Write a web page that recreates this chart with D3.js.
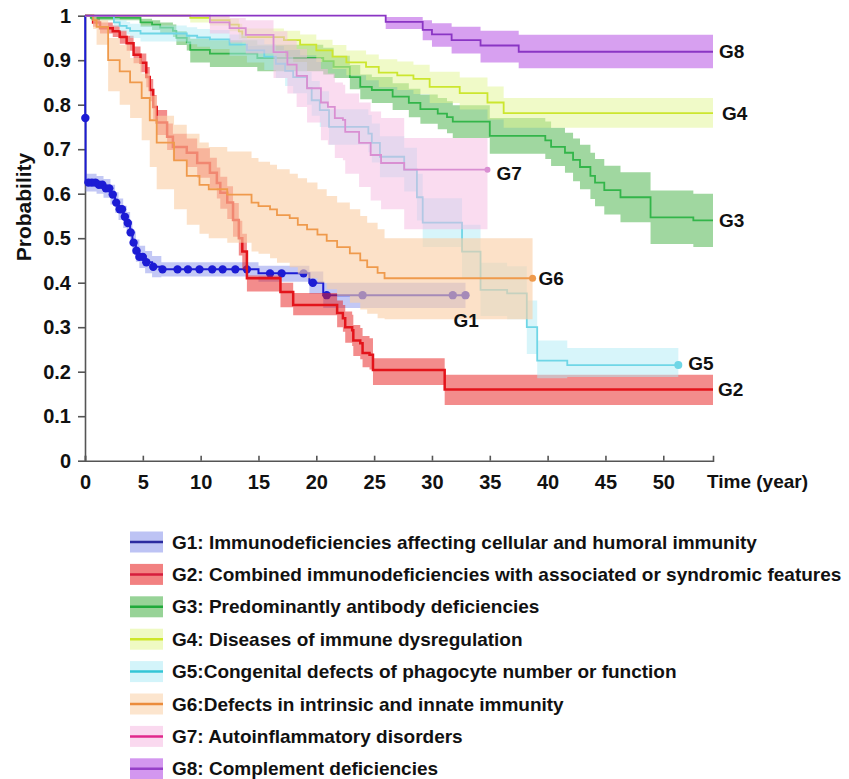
<!doctype html>
<html lang="en">
<head>
  <meta charset="utf-8">
  <script src="https://d3js.org/d3.v7.min.js"></script>
  <style>
    body { margin: 0; background: #fff; }
    svg text { font-family: "Liberation Sans", Arial, sans-serif; font-weight: bold; fill: #111; }
  </style>
</head>
<body>
<script>
  var width = 849, height = 779;

  // ---- data ----
  var groupNames = ["G1", "G2", "G3", "G4", "G5", "G6", "G7", "G8"];
  var legendLabels = [
    "G1: Immunodeficiencies affecting cellular and humoral immunity",
    "G2: Combined immunodeficiencies with associated or syndromic features",
    "G3: Predominantly antibody deficiencies",
    "G4: Diseases of immune dysregulation",
    "G5:Congenital defects of phagocyte number or function",
    "G6:Defects in intrinsic and innate immunity",
    "G7: Autoinflammatory disorders",
    "G8: Complement deficiencies"
  ];

  var xTicks = [0, 5, 10, 15, 20, 25, 30, 35, 40, 45, 50];
  var yTicks = [0, 0.1, 0.2, 0.3, 0.4, 0.5, 0.6, 0.7, 0.8, 0.9, 1];
  var xMax = 54.3;

  var g1Time  = [0, 0.02, 0.05, 1.0, 1.6, 2.2, 2.6, 2.9, 3.3, 3.6, 3.9, 4.1, 4.4, 4.7, 5.2, 5.8, 6.6, 15.0, 19.4, 20.6, 32.9];
  var g1Surv  = [1, 0.77, 0.625, 0.62, 0.612, 0.598, 0.58, 0.565, 0.548, 0.534, 0.513, 0.49, 0.472, 0.458, 0.446, 0.436, 0.43, 0.421, 0.40, 0.372, 0.372];
  var g1Lower = [1, 0.75, 0.605, 0.60, 0.591, 0.576, 0.557, 0.541, 0.523, 0.509, 0.488, 0.465, 0.447, 0.433, 0.421, 0.412, 0.414, 0.402, 0.375, 0.343, 0.343];
  var g1Upper = [1, 0.79, 0.645, 0.64, 0.633, 0.62, 0.603, 0.589, 0.573, 0.559, 0.538, 0.515, 0.497, 0.483, 0.471, 0.46, 0.446, 0.438, 0.425, 0.40, 0.40];
  var g1Censor = [0.03, 0.3, 0.6, 0.9, 1.2, 1.5, 1.8, 2.1, 2.4, 2.7, 3.0, 3.2, 3.45, 3.7, 3.95, 4.2, 4.45, 4.7, 5.0, 5.3,
                  5.9, 6.7, 8.0, 8.9, 9.9, 11.0, 11.9, 13.0, 14.0, 16.0, 17.0, 18.9, 19.7, 20.9, 24.0, 31.8, 32.9];

  var g2Time  = [0, 0.7, 1.3, 2.4, 3.0, 3.6, 4.2, 4.8, 5.3, 5.6, 5.9, 6.2, 7.1, 7.6, 8.8, 9.7, 10.8, 11.4, 11.7, 12.3, 12.8, 13.3, 13.6, 14.0, 16.9, 18.0, 21.8, 22.3, 22.5, 23.1, 23.2, 23.8, 24.0, 24.6, 24.9, 31.1, 54.3];
  var g2Surv  = [1, 0.985, 0.972, 0.965, 0.952, 0.938, 0.912, 0.894, 0.862, 0.833, 0.795, 0.76, 0.728, 0.705, 0.692, 0.669, 0.647, 0.624, 0.602, 0.58, 0.541, 0.50, 0.47, 0.41, 0.379, 0.35, 0.332, 0.32, 0.30, 0.293, 0.27, 0.264, 0.242, 0.238, 0.204, 0.16, 0.16];
  var g2Lower = [1, 0.975, 0.96, 0.952, 0.937, 0.921, 0.893, 0.873, 0.839, 0.808, 0.768, 0.732, 0.698, 0.675, 0.66, 0.636, 0.613, 0.589, 0.566, 0.543, 0.503, 0.461, 0.43, 0.38, 0.345, 0.327, 0.30, 0.29, 0.265, 0.258, 0.235, 0.228, 0.21, 0.205, 0.17, 0.125, 0.125];
  var g2Upper = [1, 0.995, 0.985, 0.978, 0.967, 0.955, 0.931, 0.915, 0.885, 0.858, 0.822, 0.788, 0.758, 0.735, 0.724, 0.702, 0.681, 0.659, 0.638, 0.617, 0.579, 0.539, 0.51, 0.416, 0.40, 0.377, 0.36, 0.35, 0.335, 0.328, 0.305, 0.298, 0.28, 0.275, 0.23, 0.193, 0.193];
  var g2Censor = [];

  var g3Time  = [0, 0.5, 4.8, 5.8, 6.5, 7.6, 7.9, 8.8, 9.1, 10.8, 14.9, 20.6, 21.5, 22.9, 23.8, 24.8, 26.6, 28.0, 29.0, 30.5, 31.3, 31.8, 35.0, 39.8, 40.3, 41.5, 42.2, 42.8, 43.7, 44.1, 44.9, 46.3, 48.9, 52.6, 54.3];
  var g3Surv  = [1, 0.995, 0.985, 0.98, 0.973, 0.966, 0.95, 0.94, 0.923, 0.915, 0.905, 0.898, 0.885, 0.862, 0.84, 0.833, 0.818, 0.804, 0.79, 0.78, 0.772, 0.762, 0.73, 0.72, 0.705, 0.692, 0.676, 0.66, 0.64, 0.625, 0.608, 0.592, 0.547, 0.54, 0.54];
  var g3Lower = [1, 0.99, 0.975, 0.968, 0.96, 0.952, 0.934, 0.922, 0.895, 0.885, 0.875, 0.868, 0.86, 0.835, 0.812, 0.804, 0.788, 0.772, 0.757, 0.745, 0.736, 0.725, 0.69, 0.678, 0.662, 0.647, 0.628, 0.61, 0.588, 0.572, 0.553, 0.536, 0.487, 0.48, 0.48];
  var g3Upper = [1, 1, 0.993, 0.99, 0.985, 0.98, 0.965, 0.957, 0.948, 0.945, 0.935, 0.928, 0.91, 0.889, 0.868, 0.862, 0.848, 0.836, 0.823, 0.815, 0.808, 0.799, 0.77, 0.762, 0.748, 0.737, 0.724, 0.71, 0.692, 0.678, 0.663, 0.648, 0.607, 0.60, 0.60];
  var g3Censor = [];

  var g4Time  = [0, 9.1, 10.8, 12.5, 13.3, 13.6, 17.2, 18.6, 20.0, 21.4, 22.6, 24.3, 25.4, 27.0, 28.4, 29.8, 32.4, 34.8, 36.2, 54.3];
  var g4Surv  = [1, 0.995, 0.99, 0.98, 0.965, 0.952, 0.945, 0.935, 0.922, 0.908, 0.895, 0.885, 0.872, 0.866, 0.858, 0.84, 0.826, 0.805, 0.781, 0.781];
  var g4Lower = [1, 0.985, 0.978, 0.965, 0.947, 0.932, 0.923, 0.911, 0.896, 0.88, 0.866, 0.855, 0.84, 0.833, 0.824, 0.804, 0.789, 0.767, 0.748, 0.748];
  var g4Upper = [1, 1, 1, 0.993, 0.982, 0.971, 0.966, 0.958, 0.946, 0.934, 0.922, 0.913, 0.902, 0.897, 0.89, 0.874, 0.861, 0.841, 0.815, 0.815];
  var g4Censor = [];

  var g5Time  = [0, 2.5, 3.0, 3.6, 3.9, 4.8, 8.8, 9.7, 10.8, 12.5, 14.0, 15.5, 16.5, 17.3, 18.0, 19.2, 19.6, 20.3, 21.1, 24.5, 24.8, 25.5, 27.6, 28.7, 29.2, 32.6, 34.2, 36.5, 38.2, 39.1, 41.7, 51.3];
  var g5Surv  = [1, 0.985, 0.977, 0.972, 0.966, 0.96, 0.955, 0.951, 0.947, 0.935, 0.922, 0.908, 0.892, 0.876, 0.862, 0.838, 0.81, 0.788, 0.75, 0.735, 0.714, 0.683, 0.654, 0.592, 0.535, 0.47, 0.384, 0.376, 0.30, 0.225, 0.215, 0.215];
  var g5Lower = [1, 0.975, 0.965, 0.958, 0.95, 0.942, 0.936, 0.93, 0.925, 0.91, 0.895, 0.878, 0.86, 0.842, 0.826, 0.8, 0.775, 0.75, 0.71, 0.693, 0.67, 0.637, 0.605, 0.54, 0.48, 0.41, 0.325, 0.318, 0.24, 0.185, 0.188, 0.188];
  var g5Upper = [1, 0.995, 0.99, 0.986, 0.982, 0.978, 0.974, 0.97, 0.968, 0.958, 0.947, 0.936, 0.922, 0.908, 0.896, 0.874, 0.853, 0.83, 0.79, 0.777, 0.758, 0.729, 0.703, 0.645, 0.59, 0.53, 0.445, 0.437, 0.36, 0.27, 0.253, 0.253];
  var g5Censor = [51.3];

  var g6Time  = [0, 0.7, 1.0, 2.0, 3.0, 3.9, 4.9, 5.6, 6.2, 7.7, 8.8, 9.9, 10.7, 12.3, 14.4, 15.0, 16.0, 16.6, 17.7, 18.4, 19.2, 20.1, 20.9, 21.8, 22.9, 23.8, 24.4, 25.3, 25.9, 38.7];
  var g6Surv  = [1, 0.99, 0.975, 0.90, 0.875, 0.85, 0.815, 0.765, 0.715, 0.675, 0.64, 0.62, 0.61, 0.598, 0.58, 0.572, 0.565, 0.552, 0.545, 0.53, 0.52, 0.508, 0.494, 0.48, 0.466, 0.45, 0.435, 0.422, 0.41, 0.41];
  var g6Lower = [1, 0.97, 0.935, 0.83, 0.80, 0.77, 0.72, 0.66, 0.61, 0.565, 0.53, 0.51, 0.50, 0.49, 0.47, 0.465, 0.455, 0.445, 0.435, 0.42, 0.41, 0.40, 0.385, 0.37, 0.355, 0.34, 0.33, 0.32, 0.318, 0.318];
  var g6Upper = [1, 1, 0.99, 0.95, 0.935, 0.905, 0.87, 0.82, 0.775, 0.755, 0.735, 0.715, 0.705, 0.695, 0.68, 0.672, 0.665, 0.655, 0.645, 0.635, 0.625, 0.61, 0.595, 0.58, 0.565, 0.55, 0.535, 0.52, 0.50, 0.50];
  var g6Censor = [38.7];

  var g7Time  = [0, 10.8, 12.5, 13.9, 16.3, 17.5, 18.3, 19.2, 20.4, 21.0, 21.6, 22.3, 22.5, 23.7, 24.7, 25.6, 27.6, 34.8];
  var g7Surv  = [1, 0.985, 0.972, 0.957, 0.918, 0.89, 0.865, 0.837, 0.805, 0.795, 0.77, 0.766, 0.739, 0.714, 0.687, 0.669, 0.654, 0.654];
  var g7Lower = [1, 0.96, 0.94, 0.915, 0.86, 0.825, 0.795, 0.76, 0.72, 0.71, 0.68, 0.675, 0.645, 0.615, 0.585, 0.565, 0.52, 0.52];
  var g7Upper = [1, 1, 0.995, 0.99, 0.965, 0.945, 0.925, 0.905, 0.88, 0.87, 0.85, 0.845, 0.825, 0.805, 0.785, 0.77, 0.725, 0.725];
  var g7Censor = [34.8];

  var g8Time  = [0, 26.0, 29.2, 30.0, 31.7, 34.2, 37.5, 54.3];
  var g8Surv  = [1, 0.986, 0.968, 0.958, 0.945, 0.933, 0.919, 0.919];
  var g8Lower = [1, 0.97, 0.945, 0.93, 0.915, 0.895, 0.882, 0.882];
  var g8Upper = [1, 0.997, 0.99, 0.983, 0.975, 0.966, 0.957, 0.957];
  var g8Censor = [];

  // ---- styles ----
  var lineColors   = ["#1c1cd4", "#e3141b", "#33b54a", "#cce62e", "#6fd6e6", "#ef9a4c", "#d98fd2", "#8a35c4"];
  var legendLines  = ["#2a2aa0", "#d61c3c", "#1faa3a", "#cde628", "#33c6d6", "#eb8c3c", "#e0288c", "#9640c8"];
  var bandColors   = ["#8791eb", "#e71919", "#41af41", "#e1f591", "#afebf5", "#facfa6", "#f5b9e1", "#af41e1"];
  var bandOpacity  = [0.5, 0.5, 0.5, 0.5, 0.5, 0.62, 0.5, 0.5];
  var lineWidths   = [2, 2.5, 1.8, 1.8, 1.8, 1.8, 1.8, 1.8];
  var dotRadius    = [4.2, 0, 0, 0, 4, 3.5, 3, 0];
  var labelDx      = [-12, 5, 6, 9, 10, 6, 9, 6];
  var labelDy      = [25, 0, 0, 0, -2, 0, 4, 0];

  var series = [
    [g1Time, g1Surv, g1Lower, g1Upper, g1Censor],
    [g2Time, g2Surv, g2Lower, g2Upper, g2Censor],
    [g3Time, g3Surv, g3Lower, g3Upper, g3Censor],
    [g4Time, g4Surv, g4Lower, g4Upper, g4Censor],
    [g5Time, g5Surv, g5Lower, g5Upper, g5Censor],
    [g6Time, g6Surv, g6Lower, g6Upper, g6Censor],
    [g7Time, g7Surv, g7Lower, g7Upper, g7Censor],
    [g8Time, g8Surv, g8Lower, g8Upper, g8Censor]
  ].map(function(s, i) {
    return {
      name: groupNames[i],
      points: s[0].map(function(t, j) { return { t: t, s: s[1][j], lo: s[2][j], hi: s[3][j] }; }),
      censor: s[4]
    };
  });

  function survAt(points, t) {
    var v = points[0].s;
    points.forEach(function(p) { if (p.t <= t) v = p.s; });
    return v;
  }

  // ---- layout ----
  var margin = { left: 85, top: 15.7 },
      plotW = 628, plotH = 445;

  var x = d3.scaleLinear().domain([0, xMax]).range([0, plotW]);
  var y = d3.scaleLinear().domain([0, 1]).range([plotH, 0]);

  var svg = d3.select("body").append("svg")
      .attr("width", width)
      .attr("height", height);

  var g = svg.append("g").attr("transform", "translate(" + margin.left + "," + margin.top + ")");

  // axes first, so the curves sit on top of them
  var xAxis = g.append("g")
      .attr("transform", "translate(0," + plotH + ")")
      .call(d3.axisBottom(x).tickValues(xTicks).tickFormat(d3.format("d"))
            .tickSizeInner(-5).tickSizeOuter(-5).tickPadding(14));
  var yAxis = g.append("g")
      .call(d3.axisLeft(y).tickValues(yTicks).tickFormat(function(d) { return d === 0 || d === 1 ? d : d.toFixed(1); })
            .tickSizeInner(7).tickSizeOuter(0).tickPadding(7));

  [xAxis, yAxis].forEach(function(a) {
    a.select(".domain").attr("stroke", "#555").attr("stroke-width", 1.6);
    a.selectAll(".tick line").attr("stroke", "#555").attr("stroke-width", 1.6);
    a.selectAll(".tick text").style("font-size", "20px").attr("fill", "#111");
  });

  g.append("text")
      .attr("x", plotW - 6)
      .attr("y", plotH + 14)
      .attr("dy", "0.71em")
      .style("font-size", "19px")
      .text("Time (year)");

  svg.append("text")
      .attr("transform", "translate(24,207) rotate(-90)")
      .attr("text-anchor", "middle")
      .attr("dy", "0.35em")
      .style("font-size", "21px")
      .text("Probability");

  var band = d3.area()
      .x(function(d) { return x(d.t); })
      .y0(function(d) { return y(d.lo); })
      .y1(function(d) { return y(d.hi); })
      .curve(d3.curveStepAfter);

  var line = d3.line()
      .x(function(d) { return x(d.t); })
      .y(function(d) { return y(d.s); })
      .curve(d3.curveStepAfter);

  // each group: band, then its curve and censor marks
  series.forEach(function(sr, i) {
    var grp = g.append("g").attr("class", "group " + sr.name);

    grp.append("path")
        .attr("d", band(sr.points))
        .attr("fill", bandColors[i])
        .attr("fill-opacity", bandOpacity[i]);

    grp.append("path")
        .attr("d", line(sr.points))
        .attr("fill", "none")
        .attr("stroke", lineColors[i])
        .attr("stroke-width", lineWidths[i]);

    grp.selectAll("circle")
        .data(sr.censor)
      .enter().append("circle")
        .attr("cx", function(t) { return x(t); })
        .attr("cy", function(t) { return y(survAt(sr.points, t)); })
        .attr("r", dotRadius[i])
        .attr("fill", lineColors[i]);
  });

  // end labels
  series.forEach(function(sr, i) {
    var last = sr.points[sr.points.length - 1];
    g.append("text")
        .attr("x", x(last.t) + labelDx[i])
        .attr("y", y(last.s) + labelDy[i])
        .attr("dy", "0.35em")
        .style("font-size", "19px")
        .text(sr.name);
  });

  // legend
  var legend = svg.append("g").attr("transform", "translate(130,542)");
  var rowH = 32.4;

  legendLabels.forEach(function(label, i) {
    var row = legend.append("g").attr("transform", "translate(0," + (i * rowH) + ")");
    row.append("rect")
        .attr("x", 0).attr("y", -10.5)
        .attr("width", 33).attr("height", 21)
        .attr("fill", bandColors[i])
        .attr("fill-opacity", 0.55);
    row.append("line")
        .attr("x1", 0).attr("x2", 33)
        .attr("stroke", legendLines[i])
        .attr("stroke-width", 2.5);
    row.append("text")
        .attr("x", 42)
        .attr("dy", "0.35em")
        .style("font-size", "19px")
        .text(label);
  });
</script>
</body>
</html>
